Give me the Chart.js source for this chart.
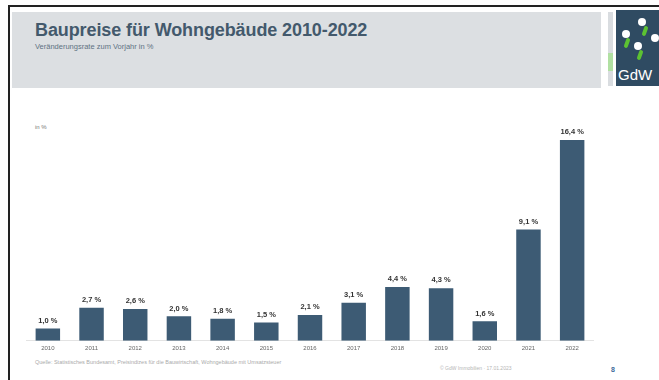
<!DOCTYPE html>
<html lang="de">
<head>
<meta charset="utf-8">
<title>Baupreise für Wohngebäude 2010-2022</title>
<script src="https://cdn.jsdelivr.net/npm/chart.js@4.4.0/dist/chart.umd.min.js"></script>
<style>
  html, body { margin: 0; padding: 0; background: #fff; overflow: hidden; }
  body { width: 659px; height: 380px; position: relative; font-family: "Liberation Sans", Arial, sans-serif; }
  .frame { position: absolute; left: 8px; top: 5px; width: 651px; height: 375px; border-left: 2px solid #222; border-top: 2px solid #222; box-sizing: border-box; }
  .header { position: absolute; left: 12px; top: 12px; width: 589px; height: 76px; background: #dcdfe2; }
  .title { position: absolute; left: 23px; top: 8px; font-size: 18px; font-weight: bold; color: #43596c; letter-spacing: -0.1px; }
  .subtitle { position: absolute; left: 23px; top: 30px; font-size: 7.5px; color: #5f7283; }
  .logo-strip { position: absolute; left: 608px; top: 12px; width: 5px; height: 74px; background: linear-gradient(#c9ced3 0 55%, #8fd37a 55% 80%, #c9ced3 80%); opacity: 0.7; }
  .logo { position: absolute; left: 616px; top: 10px; width: 43px; height: 76px; background: #2f4b62; overflow: hidden; }
  .logo .gdw { position: absolute; left: 2px; bottom: 3px; font-size: 15px; color: #fff; white-space: nowrap; font-family: "Liberation Sans", Arial, sans-serif; }
  .logo .dot { position: absolute; width: 8px; height: 8px; border-radius: 50%; background: #fff; }
  .logo .leaf { position: absolute; width: 4px; height: 10px; border-radius: 2px; background: #5cc232; transform: rotate(20deg); }
  .unit { position: absolute; left: 35px; top: 124px; font-size: 6px; color: #777; }
  .chart { position: absolute; left: 26px; top: 96px; width: 568px; height: 260px; }
  .source { position: absolute; left: 35px; top: 359px; font-size: 5.5px; color: #aaa; }
  .copy { position: absolute; left: 440px; top: 365px; font-size: 5px; color: #b5b5b5; }
  .page { position: absolute; left: 611px; top: 366px; font-size: 7px; color: #3d6a9a; font-weight: bold; }
</style>
</head>
<body>
<div class="frame"></div>
<div class="header">
  <div class="title">Baupreise für Wohngebäude 2010-2022</div>
  <div class="subtitle">Veränderungsrate zum Vorjahr in %</div>
</div>
<div class="logo-strip"></div>
<div class="logo">
  <div class="dot" style="left:6px;top:20px"></div>
  <div class="leaf" style="left:9px;top:28px"></div>
  <div class="dot" style="left:22px;top:8px"></div>
  <div class="leaf" style="left:27px;top:16px"></div>
  <div class="dot" style="left:18px;top:32px"></div>
  <div class="leaf" style="left:22px;top:40px"></div>
  <div class="dot" style="left:35px;top:24px"></div>
  <div class="gdw">GdW</div>
</div>
<div class="unit">in %</div>
<div class="chart"><canvas id="baupreise"></canvas></div>
<div class="source">Quelle: Statistisches Bundesamt, Preisindizes für die Bauwirtschaft, Wohngebäude mit Umsatzsteuer</div>
<div class="copy">© GdW Immobilien · 17.01.2023</div>
<div class="page">8</div>

<script>
const years = ['2010', '2011', '2012', '2013', '2014', '2015', '2016', '2017', '2018', '2019', '2020', '2021', '2022'];
const changeRates = [1.0, 2.7, 2.6, 2.0, 1.8, 1.5, 2.1, 3.1, 4.4, 4.3, 1.6, 9.1, 16.4];

// value labels above each bar, German decimal comma
const barLabels = {
    id: 'barLabels',
    afterDatasetsDraw(chart) {
        const ctx = chart.ctx;
        const meta = chart.getDatasetMeta(0);
        ctx.save();
        ctx.font = 'bold 7.5px "Liberation Sans", Arial, sans-serif';
        ctx.fillStyle = '#333';
        ctx.textAlign = 'center';
        ctx.textBaseline = 'bottom';
        meta.data.forEach((bar, i) => {
            const text = changeRates[i].toFixed(1).replace('.', ',') + ' %';
            ctx.fillText(text, bar.x, bar.y - 4);
        });
        ctx.restore();
    }
};

new Chart(document.getElementById('baupreise'), {
    type: 'bar',
    data: {
        labels: years,
        datasets: [{
            data: changeRates,
            backgroundColor: '#3d5b74',
            borderWidth: 0,
            categoryPercentage: 1,
            barPercentage: 0.56
        }]
    },
    options: {
        responsive: true,
        maintainAspectRatio: false,
        animation: false,
        layout: { padding: 0 },
        plugins: {
            legend: { display: false },
            tooltip: { enabled: false }
        },
        scales: {
            x: {
                grid: { display: false, drawTicks: false },
                border: { display: true, color: '#e3e3e3', dash: [1, 1], width: 1 },
                ticks: {
                    color: '#666',
                    font: { size: 6, family: '"Liberation Sans", Arial, sans-serif' },
                    padding: 4
                }
            },
            y: {
                display: false,
                min: 0,
                max: 20
            }
        }
    },
    plugins: [barLabels]
});
</script>
</body>
</html>
